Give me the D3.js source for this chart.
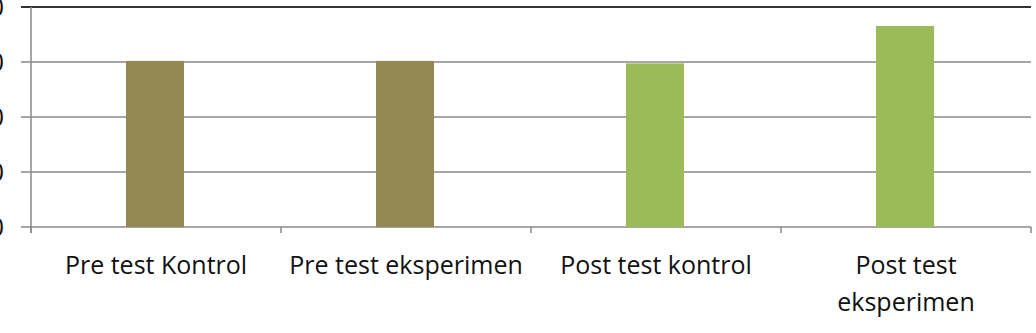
<!DOCTYPE html>
<html lang="en">
  <head>
    <meta charset="utf-8">
    <title>Pre test / Post test</title>
    <script src="https://d3js.org/d3.v7.min.js"></script>
    <style>
      body { margin: 0; background: white; }
      text { font-family: "Open Sans", sans-serif; }
    </style>
  </head>
  <body>
    <script type="text/javascript">

      // data
      var categories = ["Pre test Kontrol", "Pre test eksperimen", "Post test kontrol", "Post test eksperimen"];
      var values = [60.4, 60.4, 59.5, 73.1];
      var barColors = ["#938953", "#938953", "#9bbb59", "#9bbb59"];
      var yTicks = [0, 20, 40, 60, 80];

      var w = 1036, h = 333;
      var margin = {top: 7, right: 5, bottom: 106, left: 31};
      var innerWidth = w - margin.left - margin.right;
      var innerHeight = h - margin.top - margin.bottom;

      var svg = d3.select("body").append("svg")
          .attr("width", w)
          .attr("height", h);

      var g = svg.append("g")
          .attr("transform", `translate(${margin.left}, ${margin.top})`);

      var xScale = d3.scaleBand()
          .domain(categories)
          .range([0, innerWidth]);

      var yScale = d3.scaleLinear()
          .domain([0, 80])
          .range([innerHeight, 0]);

      // gridlines
      g.selectAll("line.grid")
          .data(yTicks)
          .enter().append("line")
          .attr("class", "grid")
          .attr("x1", -10)
          .attr("x2", innerWidth)
          .attr("y1", d => yScale(d))
          .attr("y2", d => yScale(d))
          .attr("stroke", d => d == 80 ? "#333" : "#888")
          .attr("stroke-width", d => d == 80 ? 2 : 1.5);

      // y labels (mostly cut off at the left edge, like the original)
      g.selectAll("text.ylab")
          .data(yTicks)
          .enter().append("text")
          .attr("class", "ylab")
          .attr("x", -27)
          .attr("y", d => yScale(d) + 9)
          .attr("text-anchor", "end")
          .attr("font-size", 26)
          .attr("fill", "#111")
          .text(d => d);

      // bars
      var barW = 58;
      g.selectAll("rect.bar")
          .data(categories)
          .enter().append("rect")
          .attr("class", "bar")
          .attr("x", (d, i) => xScale(d) + xScale.bandwidth() / 2 - barW / 2 - 1)
          .attr("y", (d, i) => yScale(values[i]))
          .attr("width", barW)
          .attr("height", (d, i) => innerHeight - yScale(values[i]))
          .attr("fill", (d, i) => barColors[i]);

      // axis lines
      g.append("line")
          .attr("x1", 0).attr("x2", 0)
          .attr("y1", 0).attr("y2", innerHeight + 6)
          .attr("stroke", "#888").attr("stroke-width", 1.5);

      var xTicks = [0].concat(categories.map(d => xScale(d) + xScale.bandwidth()));
      g.selectAll("line.xtick")
          .data(xTicks)
          .enter().append("line")
          .attr("class", "xtick")
          .attr("x1", d => d).attr("x2", d => d)
          .attr("y1", innerHeight).attr("y2", innerHeight + 6)
          .attr("stroke", "#888").attr("stroke-width", 1.5);

      // x labels
      var lines = {
        "Pre test Kontrol": ["Pre test Kontrol"],
        "Pre test eksperimen": ["Pre test eksperimen"],
        "Post test kontrol": ["Post test kontrol"],
        "Post test eksperimen": ["Post test", "eksperimen"]
      };
      categories.forEach(function(c) {
        var t = g.append("text")
            .attr("x", xScale(c) + xScale.bandwidth() / 2)
            .attr("y", innerHeight + 47)
            .attr("text-anchor", "middle")
            .attr("font-size", 25)
            .attr("fill", "#111");
        lines[c].forEach(function(l, j) {
          t.append("tspan")
              .attr("x", xScale(c) + xScale.bandwidth() / 2)
              .attr("dy", j == 0 ? 0 : 37)
              .text(l);
        });
      });

    </script>
  </body>
</html>
